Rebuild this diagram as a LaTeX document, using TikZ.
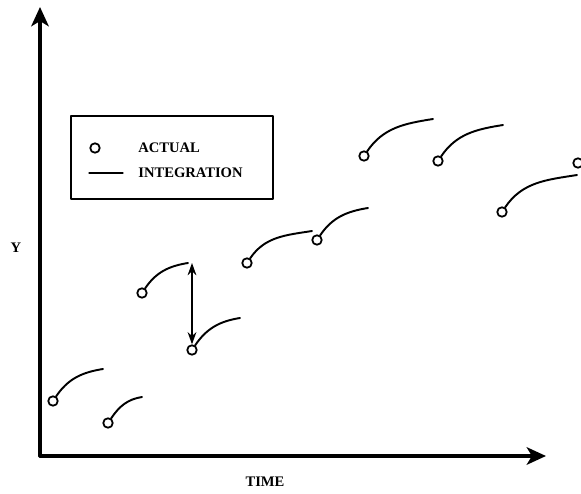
\documentclass[tikz,border=0pt]{standalone}
\usepackage{fontspec}
\setmainfont{Liberation Serif}
\usepackage{tikz}
\usetikzlibrary{arrows.meta}

\tikzset{
  lbl/.style={font=\fontsize{8.3}{10}\selectfont\bfseries, inner sep=0pt},
  axis/.style={line width=1.8pt, -{Stealth[length=11pt,width=10pt,inset=3pt]}},
  actual/.style={circle, draw, line width=1pt, minimum size=0.19cm, inner sep=0pt, fill=white},
  integ/.style={line width=1.1pt},
  gap/.style={line width=0.8pt, {Stealth[length=7pt,width=5pt]}-{Stealth[length=7pt,width=5pt]}}
}

\begin{document}
\begin{tikzpicture}[line cap=round,line join=round,x=1.0cm,y=1.0cm]
      \useasboundingbox (0,0) rectangle (11.62,9.86);
      % axes
      \coordinate (O) at (0.8,0.74);
      \coordinate (ytip) at (0.8,9.72);
      \coordinate (xtip) at (10.92,0.74);
      \draw[axis] (O) -- (xtip);
      \draw[axis] (O) -- (ytip);
      \node[lbl] (ylab) at (0.32,4.9) {Y};
      \node[lbl] (xlab) at (5.3,0.22) {TIME};
      % legend
      \node[draw, line width=0.6pt, minimum width=4.04cm, minimum height=1.66cm, inner sep=0pt] (legend) at (3.44,6.71) {};
      \node[actual] (lcirc) at (1.9,6.9) {};
      \node[lbl, anchor=west] (lact) at (2.76,6.9) {ACTUAL};
      \coordinate (la) at (1.78,6.4);
      \coordinate (lb) at (2.46,6.4);
      \draw[line width=0.6pt] (la) -- (lb);
      \node[lbl, anchor=west] (lint) at (2.76,6.4) {INTEGRATION};
      % actual values and integration segments
      \foreach \i/\a/\b/\c/\d in {1/1.06/1.84/2.06/2.48, 2/2.16/1.40/2.84/1.92,
        3/2.84/4.0/3.76/4.6, 4/3.84/2.86/4.8/3.5, 5/4.94/4.6/6.24/5.24,
        6/6.34/5.06/7.36/5.7, 7/7.28/6.74/8.66/7.48, 8/8.76/6.64/10.06/7.36,
        9/10.04/5.62/11.54/6.36}
      {
        \coordinate (e\i) at (\c,\d);
        \node[actual] (p\i) at (\a,\b) {};
        \draw[integ] (p\i) to[out=56,in=189] (e\i);
      }
      \node[actual] (p10) at (11.56,6.6) {};
      % jump between integration and actual
      \coordinate (jtop) at (3.84,4.6);
      \draw[gap] (jtop) -- (p4);
    \end{tikzpicture}
\end{document}
